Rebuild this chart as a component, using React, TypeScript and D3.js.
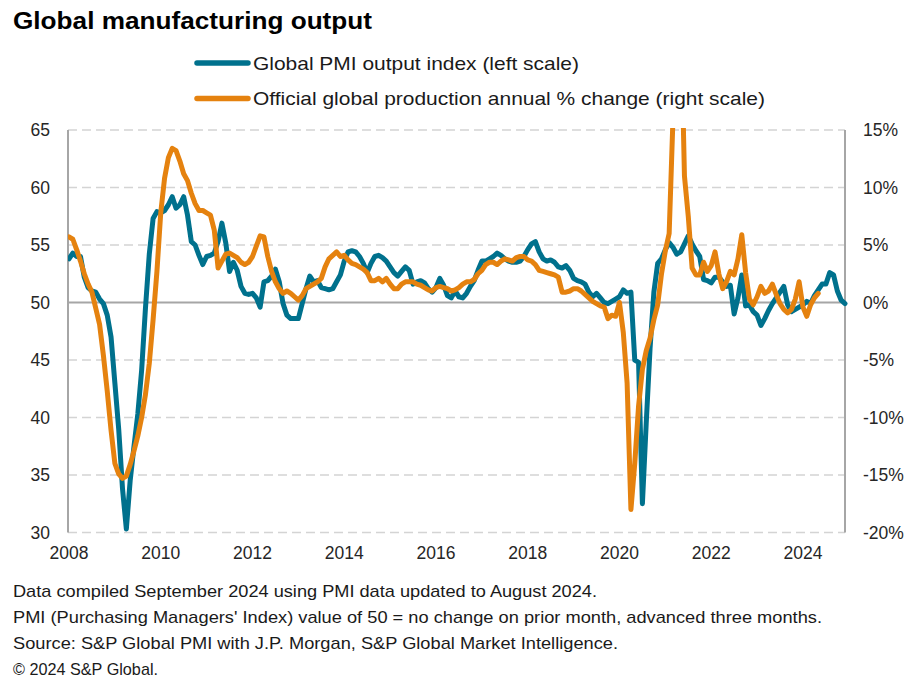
import React from "react";
import * as d3 from "d3";

// Monthly, Jan 2008 (index 0) onward
const PMI_2008_2011 = [
  53.8, 54.3, 54.0, 54.0, 52.2, 51.3, 51.0, 50.9, 50.3, 49.9, 48.9, 47.0,
  43.0, 39.0, 33.8, 30.3, 34.5, 37.5, 40.3, 44.1, 49.5, 54.2, 57.3, 57.9,
  57.8, 58.0, 58.5, 59.2, 58.2, 58.5, 59.2, 57.6, 55.3, 55.0, 54.1, 53.3,
  54.0, 54.1, 54.3, 55.3, 56.9, 55.2, 52.7, 53.5, 52.8, 51.4, 50.8, 50.7,
];
const PMI_2012_2015 = [
  50.8, 50.4, 49.6, 51.8, 51.9, 52.3, 52.9, 51.8, 49.9, 48.9, 48.6, 48.6,
  48.6, 49.9, 51.2, 52.3, 51.8, 51.9, 51.3, 51.2, 51.1, 51.2, 51.8, 52.4,
  53.6, 54.4, 54.5, 54.4, 54.0, 53.4, 52.6, 53.4, 54.0, 54.1, 53.9, 53.6,
  53.1, 52.6, 52.3, 52.7, 53.1, 52.8, 51.6, 51.8, 51.9, 51.7, 51.2, 50.9,
];
const PMI_2016_2019 = [
  51.3, 52.1, 51.5, 50.6, 50.4, 51.0, 50.5, 50.4, 50.8, 51.4, 51.9, 52.8,
  53.6, 53.6, 53.8, 54.0, 54.3, 54.1, 53.8, 53.6, 53.5, 53.5, 53.6, 54.0,
  54.6, 55.1, 55.3, 54.4, 53.8, 53.6, 53.7, 53.5, 53.1, 53.0, 53.2, 52.8,
  52.1, 51.9, 51.8, 51.6, 50.9, 50.5, 50.8, 50.4, 50.0, 49.9, 50.1, 50.3,
];
const PMI_2020_2024 = [
  50.5, 51.1, 50.8, 50.9, 45.0, 44.8, 32.5, 39.5, 46.0, 50.9, 53.4, 53.8,
  54.6, 55.2, 54.8, 54.2, 54.4, 55.1, 55.8, 55.1, 54.5, 54.0, 52.0, 51.9,
  51.7, 52.2, 52.2, 51.8, 51.4, 51.5, 49.0, 50.4, 52.4, 49.7, 49.8, 49.2,
  48.9, 48.0, 48.6, 49.3, 49.9, 50.4, 50.9, 51.4, 49.8, 49.2, 49.4, 49.6,
  49.8, 50.1, 49.9, 50.6, 51.1, 51.6, 51.6, 52.6, 52.4, 51.0, 50.2, 49.9,
];
const pmi = [...PMI_2008_2011, ...PMI_2012_2015, ...PMI_2016_2019, ...PMI_2020_2024];

// Official global production, annual % change (right scale)
const PROD_2008_2011 = [
  5.7, 5.5, 4.6, 3.6, 2.5, 1.6, 0.9, -0.5, -1.9, -4.6, -7.7, -11.1,
  -14.0, -14.9, -15.3, -15.1, -14.1, -12.9, -11.6, -10.0, -8.0, -5.3, -1.5, 2.7,
  7.8, 10.8, 12.6, 13.4, 13.2, 12.3, 11.2, 10.6, 9.5, 8.6, 8.0, 8.0,
  7.8, 7.6, 6.3, 3.0, 3.6, 4.2, 4.3, 4.1, 3.9, 3.5, 3.3, 3.5,
];
const PROD_2012_2015 = [
  4.0, 4.9, 5.8, 5.7, 4.0, 2.7, 1.8, 1.2, 0.8, 1.0, 0.8, 0.5,
  0.2, 0.6, 1.2, 1.4, 1.6, 1.8, 2.1, 3.1, 3.8, 4.1, 4.4, 4.0,
  4.1, 3.7, 3.4, 3.3, 3.1, 2.9, 2.6, 1.9, 1.9, 2.1, 1.8, 2.1,
  1.6, 1.2, 1.2, 1.6, 1.8, 1.8, 1.8, 1.6, 1.5, 1.3, 1.1, 1.0,
];
const PROD_2016_2019 = [
  1.3, 1.4, 1.3, 1.2, 1.0, 1.1, 1.3, 1.6, 1.8, 1.8, 2.0, 2.5,
  2.8, 3.3, 3.5, 3.5, 3.3, 3.6, 3.8, 3.7, 3.6, 3.9, 4.0, 4.0,
  3.7, 3.6, 3.3, 2.8, 2.7, 2.6, 2.5, 2.4, 2.2, 0.9, 0.9, 1.0,
  1.2, 1.2, 1.0, 0.7, 0.4, 0.1, -0.1, -0.3, -0.4, -1.4, -1.1, -1.2,
];
const PROD_2020_2024 = [
  0.0, -2.6, -7.0, -18.0, -14.0, -9.0, -5.8, -4.2, -3.1, -1.5, -0.2, 2.5,
  4.5, 6.0, 16.0, 30.0, 26.0, 11.0, 7.5, 3.0, 2.4, 2.4, 3.5, 2.7,
  3.2, 4.4, 2.5, 1.2, 1.8, 2.7, 2.4, 3.8, 5.9, 2.6, 0.3, -0.2,
  0.5, 1.4, 0.8, 1.0, 1.6, 0.7, -0.1, -0.6, -0.9, -0.6, 0.3, 1.8,
  -0.4, -1.2, -0.2, 0.4, 0.8,
];
const prod = [...PROD_2008_2011, ...PROD_2012_2015, ...PROD_2016_2019, ...PROD_2020_2024];

const leftTicks = [30, 35, 40, 45, 50, 55, 60, 65];
const rightTicks = [-20, -15, -10, -5, 0, 5, 10, 15];
const yearTicks = [2008, 2010, 2012, 2014, 2016, 2018, 2020, 2022, 2024];

const TITLE = "Global manufacturing output";
const LEGEND = [
  "Global PMI output index (left scale)",
  "Official global production annual % change (right scale)",
];
const NOTES = [
  "Data compiled September 2024 using PMI data updated to August 2024.",
  "PMI (Purchasing Managers' Index) value of 50 = no change on prior month, advanced three months.",
  "Source: S&P Global PMI with J.P. Morgan, S&P Global Market Intelligence.",
  "\u00A9 2024 S&P Global.",
];

const TEAL = "#00718d";
const ORANGE = "#e5820f";
const FONT = "'Liberation Sans', Arial, Helvetica, sans-serif";

export default function App() {
  const W = 923, H = 689;
  const L = 68, R = 845, T = 130, B = 532.5;
  const x = d3.scaleLinear().domain([0, 203]).range([69, R]);
  const yL = d3.scaleLinear().domain([30, 65]).range([B, T]);
  const yR = d3.scaleLinear().domain([-20, 15]).range([B, T]);

  const pmiLine = d3.line<number>().x((_, i) => x(i)).y((d) => yL(d));
  const prodLine = d3.line<number>().x((_, i) => x(i)).y((d) => yR(d));

  const legendW = [326, 512];
  const noteW = [584, 809, 605, 145];

  return (
    <svg
      width={W}
      height={H}
      style={{ position: "absolute", left: 0, top: 0, background: "#fff" }}
      fontFamily={FONT}
    >
      <defs>
        <clipPath id="plotClip">
          <rect x={L} y={T - 2} width={R - L + 4} height={B - T + 10} />
        </clipPath>
      </defs>

      <text x={13} y={29} fontSize={24} fontWeight="bold" fill="#000"
        textLength={359} lengthAdjust="spacingAndGlyphs">{TITLE}</text>

      {LEGEND.map((t, i) => {
        const cy = 63 + i * 35.5;
        return (
          <g key={t}>
            <line x1={197} x2={248} y1={cy} y2={cy}
              stroke={i === 0 ? TEAL : ORANGE} strokeWidth={5.5} strokeLinecap="round" />
            <text x={253} y={cy + 6.5} fontSize={19} fill="#1a1a1a"
              textLength={legendW[i]} lengthAdjust="spacingAndGlyphs">{t}</text>
          </g>
        );
      })}

      {leftTicks.filter((v) => v !== 50).map((v) => (
        <line key={"g" + v} x1={L} x2={R} y1={yL(v)} y2={yL(v)}
          stroke="#d4d4d4" strokeWidth={1.3} strokeDasharray="9,5" />
      ))}
      <line x1={L} x2={R} y1={yL(50)} y2={yL(50)} stroke="#a6a6a6" strokeWidth={2} />
      <line x1={L} x2={L} y1={T} y2={B} stroke="#a6a6a6" strokeWidth={2} />
      <line x1={R} x2={R} y1={T} y2={B} stroke="#a6a6a6" strokeWidth={2} />

      {leftTicks.map((v) => (
        <text key={"l" + v} x={50} y={yL(v) + 6} fontSize={17.5} textAnchor="end" fill="#262626">{v}</text>
      ))}
      {rightTicks.map((v) => (
        <text key={"r" + v} x={863} y={yR(v) + 6} fontSize={17.5} textAnchor="start" fill="#262626">{v + "%"}</text>
      ))}
      {yearTicks.map((yr) => (
        <text key={"y" + yr} x={x((yr - 2008) * 12)} y={559} fontSize={17.5} textAnchor="middle" fill="#262626">{yr}</text>
      ))}

      <g clipPath="url(#plotClip)">
        <path d={pmiLine(pmi) || ""} fill="none" stroke={TEAL} strokeWidth={5} strokeLinejoin="round" strokeLinecap="round" />
        <path d={prodLine(prod) || ""} fill="none" stroke={ORANGE} strokeWidth={5} strokeLinejoin="round" strokeLinecap="round" />
      </g>

      {NOTES.map((t, i) => (
        <text key={"n" + i} x={13} y={597 + i * 26} fontSize={17} fill="#1a1a1a"
          textLength={noteW[i]} lengthAdjust="spacingAndGlyphs">{t}</text>
      ))}
    </svg>
  );
}
